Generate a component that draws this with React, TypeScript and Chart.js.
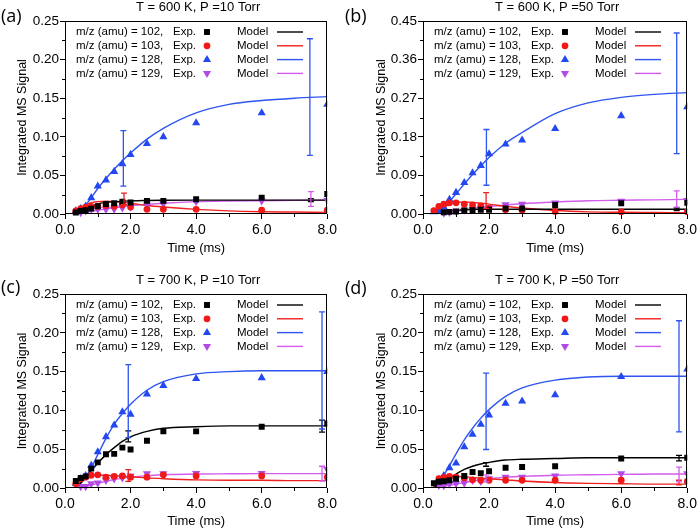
import React, { useEffect, useRef } from 'react';
import { Chart, registerables } from 'chart.js';

Chart.register(...registerables);

// ---------- shared axes ----------
const EXP_T = [0.33, 0.48, 0.63, 0.8, 1.0, 1.25, 1.5, 1.75, 2.0, 2.5, 3.0, 4.0, 6.0, 8.0];
const MODEL_T = [0.3, 0.5, 0.75, 1.0, 1.25, 1.5, 1.75, 2.0, 2.5, 3.0, 4.0, 5.0, 6.0, 7.0, 8.0];
const X_TICKS = [0, 2, 4, 6, 8];
const SERIES_MZ = ['102', '103', '128', '129'];

// ---------- panel (a) T = 600 K, P = 10 Torr ----------
const A_EXP_102 = [0.002, 0.004, 0.005, 0.007, 0.010, 0.013, 0.014, 0.016, 0.015, 0.017, 0.017, 0.019, 0.021, 0.026];
const A_EXP_103 = [0.004, 0.007, 0.009, 0.010, 0.010, 0.011, 0.010, 0.012, 0.009, 0.006, 0.006, 0.006, 0.005, 0.005];
const A_EXP_128 = [0.004, 0.007, 0.010, 0.021, 0.036, 0.044, 0.055, 0.065, 0.077, 0.091, 0.100, 0.118, 0.131, 0.142];
const A_EXP_129 = [null, 0.002, 0.004, 0.006, 0.006, 0.006, 0.0065, 0.008, 0.009, 0.012, 0.013, 0.016, 0.017, 0.018];
const A_MOD_102 = [0, 0.004, 0.009, 0.013, 0.015, 0.016, 0.0165, 0.017, 0.0175, 0.0178, 0.018, 0.018, 0.018, 0.018, 0.018];
const A_MOD_103 = [0, 0.008, 0.014, 0.016, 0.0165, 0.016, 0.015, 0.014, 0.011, 0.009, 0.006, 0.004, 0.003, 0.0025, 0.002];
const A_MOD_128 = [0, 0.006, 0.018, 0.033, 0.046, 0.058, 0.069, 0.079, 0.097, 0.111, 0.131, 0.142, 0.147, 0.150, 0.152];
const A_MOD_129 = [0, 0.001, 0.003, 0.005, 0.0065, 0.008, 0.0095, 0.011, 0.0125, 0.014, 0.016, 0.0168, 0.0172, 0.0176, 0.018];
const A_ERR_102 = [[7.5, 0.016, 0.020]];
const A_ERR_103 = [[1.8, 0.012, 0.027]];
const A_ERR_128 = [[1.78, 0.036, 0.108], [7.47, 0.076, 0.227]];
const A_ERR_129 = [[7.5, 0.010, 0.029]];

// ---------- panel (b) T = 600 K, P = 50 Torr ----------
const B_EXP_102 = [null, null, 0.004, 0.005, 0.006, 0.008, 0.009, 0.010, 0.010, 0.013, 0.013, 0.021, 0.025, 0.026];
const B_EXP_103 = [0.008, 0.018, 0.023, 0.026, 0.026, 0.023, 0.021, 0.019, 0.013, 0.010, 0.009, 0.006, 0.005, 0.005];
const B_EXP_128 = [0.005, 0.008, 0.016, 0.034, 0.050, 0.073, 0.096, 0.113, 0.140, 0.163, 0.172, 0.199, 0.229, 0.250];
const B_EXP_129 = [null, null, 0.002, 0.004, 0.007, 0.009, 0.011, 0.013, 0.015, 0.022, 0.023, 0.026, 0.030, 0.032];
const B_MOD_102 = [0, 0.003, 0.007, 0.009, 0.010, 0.0105, 0.011, 0.011, 0.011, 0.011, 0.011, 0.011, 0.011, 0.011, 0.011];
const B_MOD_103 = [0, 0.010, 0.021, 0.027, 0.028, 0.027, 0.025, 0.023, 0.018, 0.014, 0.008, 0.005, 0.004, 0.0035, 0.003];
const B_MOD_128 = [0, 0.008, 0.025, 0.047, 0.070, 0.092, 0.112, 0.132, 0.165, 0.190, 0.234, 0.259, 0.272, 0.279, 0.283];
const B_MOD_129 = [0, 0.001, 0.003, 0.006, 0.009, 0.012, 0.015, 0.017, 0.021, 0.024, 0.028, 0.031, 0.032, 0.033, 0.034];
const B_ERR_102 = [[7.68, 0.008, 0.014]];
const B_ERR_103 = [[1.91, 0.013, 0.050]];
const B_ERR_128 = [[1.92, 0.067, 0.197], [7.68, 0.141, 0.422]];
const B_ERR_129 = [[7.68, 0.016, 0.054]];

// ---------- panel (c) T = 700 K, P = 10 Torr ----------
const C_EXP_102 = [0.009, 0.013, 0.015, 0.025, 0.033, 0.0435, 0.044, 0.052, 0.0496, 0.061, 0.073, 0.073, 0.079, 0.083];
const C_EXP_103 = [0.0056, 0.012, 0.014, 0.0164, 0.017, 0.014, 0.015, 0.0155, 0.014, 0.014, 0.017, 0.0155, 0.0155, 0.014];
const C_EXP_128 = [0.0056, 0.012, 0.016, 0.029, 0.0466, 0.066, 0.081, 0.098, 0.095, 0.121, 0.132, 0.141, 0.142, 0.150];
const C_EXP_129 = [null, 0.002, 0.002, 0.0056, 0.0065, 0.010, 0.012, 0.013, 0.0155, 0.0185, 0.0185, 0.019, 0.019, 0.024];
const C_MOD_102 = [0, 0.007, 0.020, 0.032, 0.043, 0.052, 0.060, 0.066, 0.073, 0.077, 0.079, 0.080, 0.080, 0.080, 0.080];
const C_MOD_103 = [0, 0.009, 0.015, 0.0165, 0.0165, 0.016, 0.015, 0.0145, 0.013, 0.012, 0.0105, 0.010, 0.010, 0.0095, 0.0095];
const C_MOD_128 = [0, 0.007, 0.022, 0.043, 0.064, 0.082, 0.096, 0.108, 0.126, 0.137, 0.147, 0.150, 0.151, 0.151, 0.151];
const C_MOD_129 = [0, 0.001, 0.003, 0.006, 0.0085, 0.011, 0.0125, 0.014, 0.016, 0.017, 0.018, 0.0183, 0.0185, 0.0185, 0.0185];
const C_ERR_102 = [[1.93, 0.0595, 0.0737], [7.84, 0.072, 0.0875]];
const C_ERR_103 = [[1.93, 0.0086, 0.0237]];
const C_ERR_128 = [[1.93, 0.065, 0.159], [7.84, 0.076, 0.227]];
const C_ERR_129 = [[7.84, 0.009, 0.028]];

// ---------- panel (d) T = 700 K, P = 50 Torr ----------
const D_EXP_102 = [0.006, 0.008, 0.0086, 0.010, 0.012, 0.0155, 0.0207, 0.019, 0.0215, 0.026, 0.027, 0.028, 0.038, 0.039];
const D_EXP_103 = [null, 0.012, 0.0135, 0.015, 0.014, 0.013, 0.0105, 0.010, 0.010, 0.010, 0.010, 0.010, 0.010, 0.0086];
const D_EXP_128 = [null, 0.011, 0.016, 0.026, 0.032, 0.053, 0.069, 0.082, 0.094, 0.109, 0.112, 0.120, 0.1435, 0.153];
const D_EXP_129 = [null, 0.0035, 0.003, 0.005, 0.0056, 0.0065, 0.0099, 0.0086, 0.012, 0.014, 0.014, 0.0155, 0.0185, 0.0185];
const D_MOD_102 = [0, 0.004, 0.012, 0.018, 0.024, 0.028, 0.031, 0.033, 0.036, 0.037, 0.038, 0.039, 0.039, 0.039, 0.039];
const D_MOD_103 = [0, 0.009, 0.014, 0.015, 0.0145, 0.0135, 0.0128, 0.012, 0.0105, 0.009, 0.007, 0.006, 0.0055, 0.005, 0.005];
const D_MOD_128 = [0, 0.008, 0.025, 0.044, 0.062, 0.077, 0.090, 0.101, 0.118, 0.129, 0.139, 0.143, 0.144, 0.144, 0.144];
const D_MOD_129 = [0, 0.001, 0.003, 0.005, 0.007, 0.009, 0.0105, 0.012, 0.014, 0.015, 0.0165, 0.017, 0.0175, 0.018, 0.018];
const D_ERR_102 = [[1.91, 0.028, 0.0328], [7.75, 0.035, 0.042]];
const D_ERR_103 = [[7.75, 0.004, 0.010]];
const D_ERR_128 = [[1.91, 0.0496, 0.148], [7.75, 0.0724, 0.2155]];
const D_ERR_129 = [[1.91, 0.008, 0.017], [7.75, 0.008, 0.027]];

// ---------- styles ----------
const FONT = "'Liberation Sans', Arial, sans-serif";
const POINT_COLORS = ['#000000', '#f01818', '#2347f0', '#b24ae6'];
const LINE_COLORS = ['#000000', '#f02020', '#2f55f0', '#d25cec'];
const POINT_STYLES = ['rect', 'circle', 'triangle', 'triangle'];
const POINT_ROT = [0, 0, 0, 180];
const POINT_RADII = [4.2, 3.4, 4.7, 4.7];

type Panel = {
  label: string;
  title: string;
  yMax: number;
  yStep: number;
  exp: (number | null)[][];
  model: number[][];
  errs: number[][][];
  left: number;
  top: number;
  w: number;
  h: number;
  axisW: number;
  padRight: number;
  padTop: number;
  xAxisH: number;
  yTitlePad: number;
  xTitlePad: number;
  labelY: number;
  labelX: number;
};

const PANELS: Panel[] = [
  {
    label: '(a)', title: 'T = 600 K, P =10 Torr', yMax: 0.25, yStep: 0.05,
    exp: [A_EXP_102, A_EXP_103, A_EXP_128, A_EXP_129],
    model: [A_MOD_102, A_MOD_103, A_MOD_128, A_MOD_129],
    errs: [A_ERR_102, A_ERR_103, A_ERR_128, A_ERR_129],
    left: 0, top: 0, w: 340, h: 265, axisW: 65, padRight: 9, padTop: 21, xAxisH: 51,
    yTitlePad: 15, xTitlePad: 9, labelY: 17, labelX: 1,
  },
  {
    label: '(b)', title: 'T = 600 K, P =50 Torr', yMax: 0.45, yStep: 0.09,
    exp: [B_EXP_102, B_EXP_103, B_EXP_128, B_EXP_129],
    model: [B_MOD_102, B_MOD_103, B_MOD_128, B_MOD_129],
    errs: [B_ERR_102, B_ERR_103, B_ERR_128, B_ERR_129],
    left: 340, top: 0, w: 360, h: 265, axisW: 83, padRight: 12, padTop: 21, xAxisH: 51,
    yTitlePad: 34, xTitlePad: 9, labelY: 17, labelX: 5,
  },
  {
    label: '(c)', title: 'T = 700 K, P =10 Torr', yMax: 0.25, yStep: 0.05,
    exp: [C_EXP_102, C_EXP_103, C_EXP_128, C_EXP_129],
    model: [C_MOD_102, C_MOD_103, C_MOD_128, C_MOD_129],
    errs: [C_ERR_102, C_ERR_103, C_ERR_128, C_ERR_129],
    left: 0, top: 265, w: 340, h: 266, axisW: 65, padRight: 9, padTop: 29, xAxisH: 43,
    yTitlePad: 15, xTitlePad: 1.5, labelY: 23, labelX: 1,
  },
  {
    label: '(d)', title: 'T = 700 K, P =50 Torr', yMax: 0.25, yStep: 0.05,
    exp: [D_EXP_102, D_EXP_103, D_EXP_128, D_EXP_129],
    model: [D_MOD_102, D_MOD_103, D_MOD_128, D_MOD_129],
    errs: [D_ERR_102, D_ERR_103, D_ERR_128, D_ERR_129],
    left: 340, top: 265, w: 360, h: 266, axisW: 83, padRight: 12, padTop: 29, xAxisH: 43,
    yTitlePad: 34, xTitlePad: 1.5, labelY: 24, labelX: 5,
  },
];

function drawMarker(ctx: CanvasRenderingContext2D, i: number, x: number, y: number) {
  const r = POINT_RADII[i];
  ctx.save();
  ctx.fillStyle = POINT_COLORS[i];
  ctx.beginPath();
  if (POINT_STYLES[i] === 'rect') {
    const s = Math.SQRT1_2 * r;
    ctx.rect(x - s, y - s, 2 * s, 2 * s);
  } else if (POINT_STYLES[i] === 'circle') {
    ctx.arc(x, y, r, 0, Math.PI * 2);
  } else {
    const d = POINT_ROT[i] === 180 ? -1 : 1;
    ctx.moveTo(x, y - d * r);
    ctx.lineTo(x + r * 0.866, y + d * r * 0.5);
    ctx.lineTo(x - r * 0.866, y + d * r * 0.5);
    ctx.closePath();
  }
  ctx.fill();
  ctx.restore();
}

function makePlugin(p: Panel) {
  return {
    id: 'panelDecor' + p.label,
    afterDatasetsDraw(chart: any) {
      const ctx: CanvasRenderingContext2D = chart.ctx;
      const xs = chart.scales.x;
      const ys = chart.scales.y;
      ctx.save();
      ctx.lineWidth = 1.3;
      p.errs.forEach((list, i) => {
        ctx.strokeStyle = LINE_COLORS[i];
        list.forEach(([t, lo, hi]) => {
          const x = xs.getPixelForValue(t);
          const y1 = ys.getPixelForValue(lo);
          const y2 = ys.getPixelForValue(hi);
          ctx.beginPath();
          ctx.moveTo(x, y1);
          ctx.lineTo(x, y2);
          ctx.moveTo(x - 3, y1);
          ctx.lineTo(x + 3, y1);
          ctx.moveTo(x - 3, y2);
          ctx.lineTo(x + 3, y2);
          ctx.stroke();
        });
      });
      ctx.restore();
    },
    afterDraw(chart: any) {
      const ctx: CanvasRenderingContext2D = chart.ctx;
      const a = chart.chartArea;
      const xs = chart.scales.x;
      const ys = chart.scales.y;
      ctx.save();
      // frame
      ctx.strokeStyle = '#000';
      ctx.lineWidth = 1;
      ctx.strokeRect(Math.round(a.left) + 0.5, Math.round(a.top) + 0.5, Math.round(a.right - a.left) - 1, Math.round(a.bottom - a.top) - 1);
      // minor ticks
      ctx.beginPath();
      for (let v = p.yStep / 2; v < p.yMax; v += p.yStep) {
        const y = Math.round(ys.getPixelForValue(v)) + 0.5;
        ctx.moveTo(a.left, y);
        ctx.lineTo(a.left - 3, y);
      }
      for (let t = 1; t < 8; t += 2) {
        const x = Math.round(xs.getPixelForValue(t)) + 0.5;
        ctx.moveTo(x, a.bottom);
        ctx.lineTo(x, a.bottom + 3);
      }
      ctx.stroke();
      // title
      ctx.fillStyle = '#000';
      ctx.font = `13px ${FONT}`;
      ctx.textAlign = 'center';
      ctx.textBaseline = 'middle';
      ctx.fillText(p.title, (a.left + a.right) / 2 + 2, a.top - 13.5);
      // panel label
      ctx.font = `18px 'Open Sans', 'DejaVu Sans', sans-serif`;
      ctx.textAlign = 'left';
      ctx.fillText(p.label, p.labelX, p.labelY);
      // legend
      ctx.font = `11.5px ${FONT}`;
      for (let i = 0; i < 4; i++) {
        const y = a.top + 11 + i * 13.8;
        ctx.fillStyle = '#000';
        ctx.textAlign = 'left';
        ctx.fillText(`m/z (amu) = ${SERIES_MZ[i]},`, a.left + 11, y);
        ctx.fillText('Exp.', a.left + 108, y);
        ctx.fillText('Model', a.left + 172, y);
        drawMarker(ctx, i, a.left + 142, y);
        ctx.strokeStyle = LINE_COLORS[i];
        ctx.lineWidth = 1.4;
        ctx.beginPath();
        ctx.moveTo(a.left + 212, y);
        ctx.lineTo(a.left + 238, y);
        ctx.stroke();
      }
      ctx.restore();
    },
  };
}

function PanelChart({ p }: { p: Panel }) {
  const ref = useRef<HTMLCanvasElement | null>(null);
  useEffect(() => {
    if (!ref.current) return;
    const datasets: any[] = [];
    p.model.forEach((vals, i) => {
      datasets.push({
        type: 'line',
        data: MODEL_T.map((t, j) => ({ x: t, y: vals[j] })),
        borderColor: LINE_COLORS[i],
        borderWidth: 1.4,
        pointRadius: 0,
        fill: false,
        cubicInterpolationMode: 'monotone',
        clip: 0,
        order: 2,
      });
    });
    p.exp.forEach((vals, i) => {
      datasets.push({
        type: 'scatter',
        data: EXP_T.map((t, j) => ({ x: t, y: vals[j] })).filter((d) => d.y !== null),
        showLine: false,
        pointStyle: POINT_STYLES[i],
        pointRotation: POINT_ROT[i],
        pointRadius: POINT_RADII[i],
        pointBackgroundColor: POINT_COLORS[i],
        pointBorderColor: POINT_COLORS[i],
        pointBorderWidth: 0,
        clip: { left: 6, top: 6, right: 0, bottom: 6 },
        order: 1,
      });
    });
    const chart = new Chart(ref.current, {
      type: 'scatter',
      data: { datasets },
      options: {
        animation: false,
        responsive: false,
        devicePixelRatio: 1,
        layout: { padding: { left: 0, right: p.padRight, top: p.padTop, bottom: 0 } },
        plugins: { legend: { display: false }, tooltip: { enabled: false }, title: { display: false } },
        scales: {
          x: {
            type: 'linear',
            min: 0,
            max: 8,
            afterFit: (s: any) => { s.height = p.xAxisH; },
            afterBuildTicks: (s: any) => { s.ticks = X_TICKS.map((v) => ({ value: v })); },
            ticks: {
              color: '#000',
              font: { family: FONT, size: 14 },
              padding: 3,
              maxRotation: 0,
              callback: (v: any) => Number(v).toFixed(1),
            },
            grid: { display: true, drawOnChartArea: false, drawTicks: true, tickLength: 5, color: '#000' },
            border: { display: false },
            title: { display: true, text: 'Time (ms)', color: '#000', font: { family: FONT, size: 13 }, padding: { top: 0, bottom: p.xTitlePad } },
          },
          y: {
            type: 'linear',
            min: 0,
            max: p.yMax,
            afterFit: (s: any) => { s.width = p.axisW; },
            ticks: {
              stepSize: p.yStep,
              color: '#000',
              font: { family: FONT, size: 13.5 },
              padding: 1,
              callback: (v: any) => Number(v).toFixed(2),
            },
            grid: { display: true, drawOnChartArea: false, drawTicks: true, tickLength: 5, color: '#000' },
            border: { display: false },
            title: { display: true, text: 'Integrated MS Signal', color: '#000', font: { family: FONT, size: 12.5 }, padding: { top: p.yTitlePad, bottom: 0 } },
          },
        },
      } as any,
      plugins: [makePlugin(p)],
    });
    return () => chart.destroy();
  }, [p]);
  return (
    <canvas
      ref={ref}
      width={p.w}
      height={p.h}
      style={{ position: 'absolute', left: p.left, top: p.top, width: p.w, height: p.h }}
    />
  );
}

export default function App() {
  return (
    <div style={{ position: 'absolute', left: 0, top: 0, width: 700, height: 531, background: '#fff', overflow: 'hidden' }}>
      {PANELS.map((p) => (
        <PanelChart key={p.label} p={p} />
      ))}
    </div>
  );
}
